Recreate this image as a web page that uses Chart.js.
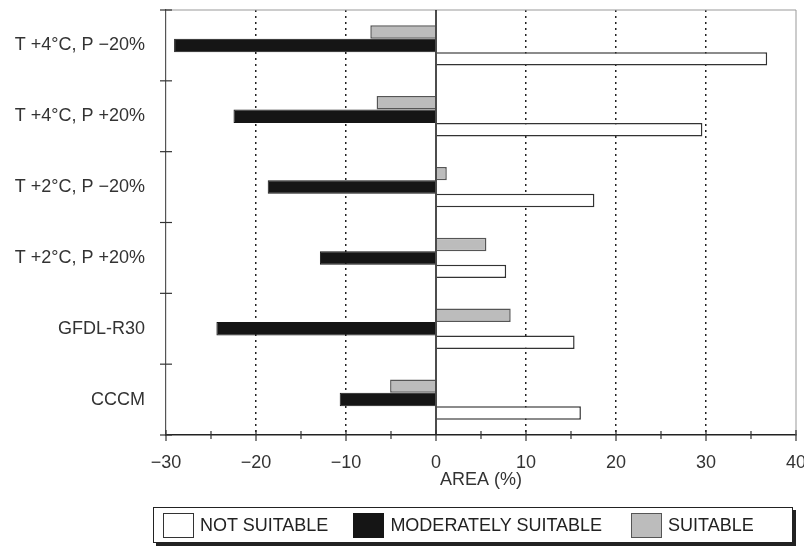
<!DOCTYPE html>
<html>
<head>
<meta charset="utf-8">
<script src="https://cdn.jsdelivr.net/npm/chart.js@4"></script>
<style>
  body { margin: 0; background: #fff; }
  #wrap { position: relative; width: 804px; height: 548px; }
  #legend {
    position: absolute; left: 153px; top: 507px; width: 638px; height: 34px;
    border: 1.5px solid #222; box-shadow: 3px 3px 0 #222; background: #fff;
    display: flex; align-items: center;
    font-family: "Liberation Sans", Arial, sans-serif; font-size: 18px; color: #222;
  }
  .item { display: flex; align-items: center; }
  .swatch { width: 31px; height: 25px; box-sizing: border-box; border: 1.5px solid #333; margin-right: 6px; }
</style>
</head>
<body>
<div id="wrap">
  <canvas id="chart" width="804" height="548"></canvas>
  <div id="legend"></div>
</div>
<script>
// Data
const categories = ['T +4°C, P \u221220%', 'T +4°C, P +20%', 'T +2°C, P \u221220%', 'T +2°C, P +20%', 'GFDL-R30', 'CCCM'];
const suitable = [-7.3, -6.6, 1.2, 5.6, 8.3, -5.1];
const moderatelySuitable = [-29.1, -22.5, -18.7, -12.9, -24.4, -10.7];
const notSuitable = [36.8, 29.6, 17.6, 7.8, 15.4, 16.1];
const xTicks = [-30, -20, -10, 0, 10, 20, 30, 40];

const textColor = '#333';
const font = { family: '"Liberation Sans", Arial, sans-serif', size: 18 };

// Frame, zero line and cross ticks
const decor = {
  id: 'decor',
  beforeDatasetsDraw(chart) {
    const { ctx, chartArea: a } = chart;
    ctx.save();
    ctx.strokeStyle = '#999';
    ctx.lineWidth = 1;
    ctx.beginPath();
    ctx.moveTo(a.left, a.top);
    ctx.lineTo(a.right, a.top);
    ctx.lineTo(a.right, a.bottom);
    ctx.stroke();
    ctx.restore();
  },
  afterDatasetsDraw(chart) {
    const { ctx, chartArea: a, scales: { x, y } } = chart;
    ctx.save();
    ctx.strokeStyle = '#111';
    ctx.lineWidth = 1.5;
    const zx = x.getPixelForValue(0);
    ctx.beginPath();
    ctx.moveTo(zx, a.top);
    ctx.lineTo(zx, a.bottom);
    ctx.stroke();

    // x ticks every 5
    ctx.lineWidth = 1.2;
    ctx.strokeStyle = '#333';
    for (let v = x.min; v <= x.max; v += 5) {
      const px = x.getPixelForValue(v);
      const major = v % 10 === 0;
      ctx.beginPath();
      ctx.moveTo(px, a.bottom - (major ? 5 : 4));
      ctx.lineTo(px, a.bottom + (major ? 6 : 4));
      ctx.stroke();
    }
    // y ticks between categories
    for (let i = 0; i <= categories.length; i++) {
      const py = y.getPixelForValue(i - 0.5);
      ctx.beginPath();
      ctx.moveTo(a.left - 6, py);
      ctx.lineTo(a.left + 6, py);
      ctx.stroke();
    }
    ctx.restore();
  }
};

const chart = new Chart(document.getElementById('chart'), {
  type: 'bar',
  data: {
    labels: categories,
    datasets: [
      { label: 'SUITABLE', data: suitable, backgroundColor: '#bcbcbc', borderColor: '#555', borderWidth: 1.5 },
      { label: 'MODERATELY SUITABLE', data: moderatelySuitable, backgroundColor: '#151515', borderColor: '#151515', borderWidth: 1 },
      { label: 'NOT SUITABLE', data: notSuitable, backgroundColor: '#fff', borderColor: '#333', borderWidth: 1.5 }
    ]
  },
  options: {
    indexAxis: 'y',
    responsive: false,
    animation: false,
    devicePixelRatio: 1,
    layout: { padding: { top: 10, right: 8, bottom: 57, left: 0 } },
    categoryPercentage: 0.57,
    barPercentage: 1.0,
    plugins: { legend: { display: false }, tooltip: { enabled: false } },
    scales: {
      x: {
        min: -30,
        max: 40,
        afterBuildTicks: s => { s.ticks = xTicks.map(v => ({ value: v })); },
        afterFit: s => { s.height = 56; s.paddingLeft = 0; s.paddingRight = 0; },
        ticks: {
          padding: 17,
          color: textColor,
          font,
          callback: v => (v < 0 ? '\u2212' + Math.abs(v) : String(v))
        },
        grid: {
          drawTicks: false,
          lineWidth: 1.5,
          color: c => (c.tick && [-30, 0, 40].includes(c.tick.value) ? 'rgba(0,0,0,0)' : '#222')
        },
        border: { display: true, color: '#222', width: 1.5, dash: [2, 4] },
        title: { display: true, text: 'AREA (%)', color: textColor, font, padding: { top: 4, bottom: 0 } }
      },
      y: {
        afterFit: s => { s.width = 166; s.paddingTop = 0; s.paddingBottom = 0; },
        ticks: { padding: 21, color: textColor, font },
        grid: { display: false, drawTicks: false },
        border: { display: true, color: '#555', width: 1.2 }
      }
    }
  },
  plugins: [decor]
});

// Legend in reverse dataset order, as in the figure
const legendEl = document.getElementById('legend');
const gaps = [9, 25, 29];
chart.data.datasets.slice().reverse().forEach((ds, i) => {
  const item = document.createElement('div');
  item.className = 'item';
  item.style.marginLeft = gaps[i] + 'px';
  const sw = document.createElement('span');
  sw.className = 'swatch';
  sw.style.background = ds.backgroundColor;
  sw.style.borderColor = ds.borderColor;
  const label = document.createElement('span');
  label.textContent = ds.label;
  item.appendChild(sw);
  item.appendChild(label);
  legendEl.appendChild(item);
});
</script>
</body>
</html>
